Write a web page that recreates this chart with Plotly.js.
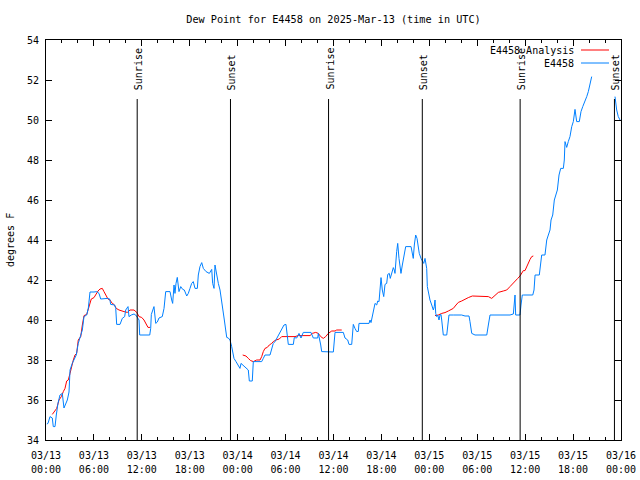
<!DOCTYPE html>
<html>
<head>
<meta charset="utf-8">
<script src="https://cdn.plot.ly/plotly-3.0.1.min.js"></script>
<style>html,body{margin:0;padding:0;background:#fff;}#chart{width:640px;height:480px;}</style>
</head>
<body>
<div id="chart"></div>
<script>
// Hours since 2025-03-13 00:00 UTC
const obsHours = [0.10,0.25,0.50,0.79,0.91,1.13,1.29,1.50,1.75,2.04,2.25,2.47,2.67,2.88,3.01,3.29,3.51,3.79,4.04,4.26,4.55,4.76,5.10,5.30,5.51,6.01,6.35,6.64,6.85,7.68,7.98,8.10,8.60,8.73,8.85,9.27,9.55,9.85,9.98,10.27,10.39,10.68,11.02,11.23,11.65,11.73,12.27,12.99,13.11,13.19,13.52,13.74,13.94,14.15,14.56,14.69,14.78,14.99,15.53,15.74,15.86,16.03,16.15,16.28,16.44,16.65,16.87,17.12,17.32,17.62,17.82,18.03,18.24,18.44,18.66,18.95,19.07,19.28,19.50,19.70,20.04,20.45,20.62,20.75,20.87,21.04,21.16,21.37,21.58,21.79,22.00,22.20,22.33,22.50,22.63,22.83,23.04,23.25,23.38,23.54,23.79,24.08,24.29,24.42,24.63,24.92,25.21,25.33,25.46,25.83,25.96,26.58,27.01,27.21,27.42,28.05,28.26,28.46,28.68,28.89,29.09,29.30,29.51,29.80,30.05,30.22,30.34,30.97,31.09,31.39,31.68,31.93,32.22,33.18,33.47,34.02,34.10,34.40,34.52,35.98,36.10,36.19,37.23,37.44,37.78,37.94,38.28,38.40,38.48,38.69,38.91,39.11,39.19,40.45,40.57,40.70,40.86,41.03,41.20,41.41,41.54,41.70,41.82,41.95,42.11,42.29,42.45,42.66,42.79,42.99,43.11,43.29,43.49,43.61,43.70,43.91,44.04,44.20,44.33,44.45,44.62,44.74,44.87,45.04,45.71,45.79,45.99,46.12,46.29,46.46,46.62,46.74,46.96,47.12,47.30,47.46,47.67,47.75,47.87,48.08,48.30,48.50,48.62,48.71,48.80,48.92,49.05,49.21,49.34,49.46,49.55,49.67,49.75,50.18,50.30,50.46,51.00,52.05,52.47,52.97,53.09,53.31,53.72,55.19,55.39,55.60,56.22,57.06,58.10,58.52,58.64,58.73,58.81,59.35,59.48,59.64,59.77,60.95,61.11,61.24,61.77,61.95,62.07,62.48,62.70,62.90,63.11,63.24,63.45,63.65,63.83,64.03,64.24,64.45,64.78,64.90,64.99,65.20,65.40,65.61,65.83,66.03,66.24,66.45,66.78,66.99,67.21,67.49,67.71,67.91,68.12,68.33,69.8,71.25,71.46,71.66,71.88];
const obsDew = [34.80,34.83,35.17,35.10,34.67,34.67,35.25,35.83,36.25,36.33,35.60,35.83,36.00,36.40,37.50,37.83,38.00,38.25,38.83,39.17,39.50,40.17,40.25,40.60,41.40,41.40,41.42,41.33,41.05,41.08,41.05,40.78,40.75,40.58,39.78,39.78,40.08,40.17,40.50,40.67,40.17,40.25,40.30,40.25,40.00,39.25,39.25,39.25,39.58,40.28,40.67,39.83,39.90,40.10,40.17,40.37,40.58,41.42,41.42,41.00,40.83,41.75,41.33,41.83,42.13,41.42,41.67,41.53,41.50,41.20,41.33,41.58,41.83,41.92,41.58,41.58,42.25,42.67,42.87,42.58,42.42,42.33,42.42,42.53,41.83,41.58,42.75,42.25,41.83,41.50,41.00,40.50,40.00,39.50,39.13,39.10,39.00,38.67,38.33,38.08,37.92,37.75,37.58,37.83,37.75,37.67,37.58,37.50,36.95,36.95,37.92,37.92,37.92,38.08,38.25,38.25,38.58,38.83,38.92,39.08,39.20,39.33,39.50,39.75,39.78,39.08,38.78,38.78,39.12,39.10,39.33,39.10,39.38,39.38,39.10,39.10,39.33,38.75,38.42,38.40,39.33,39.38,39.38,39.10,39.00,38.78,38.78,39.42,39.78,39.58,39.42,39.43,39.83,39.83,40.00,39.87,40.17,40.42,40.83,40.75,40.95,40.92,41.42,42.12,41.50,41.17,41.78,41.83,42.28,42.33,42.08,42.42,42.62,42.50,42.33,43.42,43.83,43.08,42.75,42.33,42.75,43.08,43.42,43.67,43.67,43.50,43.08,43.75,44.25,44.08,43.75,43.33,43.08,42.92,42.83,43.08,42.58,41.67,41.33,41.00,40.75,40.50,40.67,41.00,40.33,40.17,40.25,40.00,40.25,40.28,40.00,39.50,39.25,39.25,39.58,40.25,40.25,40.25,40.20,40.20,39.92,39.33,39.25,39.25,39.75,40.25,40.25,40.25,40.25,40.30,41.00,41.25,40.25,40.25,40.75,41.25,41.25,41.25,41.50,42.25,42.25,43.00,43.25,43.25,44.00,44.25,44.50,45.00,45.25,46.00,46.25,46.50,47.25,47.58,47.58,48.00,48.92,48.63,48.92,49.17,49.67,49.92,50.53,49.92,49.92,50.42,50.67,50.92,51.17,51.42,51.83,52.17,null,51.17,50.50,50.17,50.00];

const anaHours = [0.79,1.09,1.34,1.63,1.92,2.17,2.38,2.59,2.79,3.01,3.17,3.42,3.63,3.84,4.04,4.35,4.55,4.76,5.10,5.30,5.47,5.67,6.01,6.22,6.51,6.76,7.05,7.26,7.48,7.76,8.01,8.30,8.51,8.80,9.14,9.43,9.77,10.18,10.52,11.02,11.36,11.65,11.98,12.27,12.48,12.77,13.02,18.0,24.63,25.04,25.33,25.63,25.96,26.38,26.80,27.01,27.21,27.42,27.71,27.96,28.26,28.46,28.80,29.21,29.51,30.34,31.18,31.59,33.06,33.35,33.77,34.10,34.40,34.72,35.02,35.35,35.78,36.19,36.40,37.03,42.0,48.71,49.12,49.55,49.96,50.38,50.71,51.00,51.34,51.63,52.05,52.47,52.88,53.38,54.97,55.39,55.81,56.22,56.64,57.26,57.69,58.10,58.39,58.73,59.07,59.35,59.56,59.77,59.98,60.19,60.39,60.61,60.82,61.02];
const anaDew = [35.28,35.42,35.58,36.00,36.17,36.42,36.58,36.95,37.00,37.33,37.67,38.00,38.25,38.33,39.00,39.17,39.75,40.22,40.28,40.58,40.83,41.05,41.12,41.28,41.45,41.55,41.58,41.42,41.25,41.05,41.00,40.83,40.78,40.58,40.50,40.45,40.42,40.38,40.50,40.50,40.38,40.17,40.13,40.00,39.83,39.63,39.63,null,38.25,38.20,38.08,37.97,37.92,38.00,38.00,38.17,38.42,38.58,38.63,38.75,38.83,38.92,39.00,39.05,39.17,39.17,39.17,39.22,39.22,39.33,39.38,39.33,39.17,39.08,39.17,39.33,39.45,39.45,39.50,39.50,null,40.22,40.25,40.33,40.37,40.45,40.50,40.58,40.75,40.88,40.95,41.05,41.12,41.20,41.20,41.17,41.08,41.25,41.38,41.45,41.50,41.67,41.78,41.92,42.08,42.20,42.37,42.47,42.47,42.67,42.87,43.03,43.17,43.20];

const sunLabels = ['Sunrise','Sunset','Sunrise','Sunset','Sunrise','Sunset'];
const sunHours = [11.42, 23.10, 35.38, 47.12, 59.37, 71.18];

const seriesNames = ['E4458 Analysis','E4458'];
const seriesColors = ['#ff0000','#0080ff'];
const titleText = 'Dew Point for E4458 on 2025-Mar-13 (time in UTC)';
const yTitle = 'degrees F';

const base = Date.UTC(2025, 2, 13, 0, 0, 0);
const toMs = h => base + h * 3600000;

const FONT = 'DejaVu Sans Mono, monospace';
const fsz = 10;

const traces = [
  {x: anaHours.map(toMs), y: anaDew, type: 'scatter', mode: 'lines', name: seriesNames[0],
   line: {color: seriesColors[0], width: 1}, hoverinfo: 'skip'},
  {x: obsHours.map(toMs), y: obsDew, type: 'scatter', mode: 'lines', name: seriesNames[1],
   line: {color: seriesColors[1], width: 1}, hoverinfo: 'skip'},
  // invisible carrier so the second (time-of-day) label axis is drawn
  {x: obsHours.map(toMs), y: obsDew, xaxis: 'x2', type: 'scatter', mode: 'lines', opacity: 0,
   line: {width: 0}, hoverinfo: 'skip', showlegend: false}
];

const L = 46, R = 621, T = 40, B = 440;
const px2paperX = p => (p - L) / (R - L);
const px2paperY = p => (B - p) / (B - T);

const shapes = [];
const annotations = [];
sunHours.forEach((h, i) => {
  shapes.push({type: 'line', xref: 'x', yref: 'paper', x0: toMs(h), x1: toMs(h), y0: 0, y1: px2paperY(99),
    line: {color: '#000', width: 1}});
  annotations.push({xref: 'x', yref: 'paper', x: toMs(h), y: px2paperY(92), text: sunLabels[i],
    textangle: -90, showarrow: false, xanchor: 'center', yanchor: 'bottom', xshift: 1,
    font: {family: FONT, size: fsz, color: '#000'}});
});
// gnuplot-style key: text, then line sample
[50, 63].forEach((yy, i) => {
  annotations.push({xref: 'paper', yref: 'paper', x: px2paperX(576), y: px2paperY(yy), text: seriesNames[i],
    showarrow: false, xanchor: 'right', yanchor: 'middle', font: {family: FONT, size: fsz, color: '#000'}});
  shapes.push({type: 'line', xref: 'paper', yref: 'paper', x0: px2paperX(581), x1: px2paperX(609),
    y0: px2paperY(yy), y1: px2paperY(yy), line: {color: seriesColors[i], width: 1}});
});
annotations.push({xref: 'paper', yref: 'paper', x: 0, y: 0.5, xshift: -(L - 10), text: yTitle,
  textangle: -90, showarrow: false, xanchor: 'center', yanchor: 'middle',
  font: {family: FONT, size: fsz, color: '#000'}});

const xRange = [toMs(0), toMs(72)];
const sixH = 6 * 3600000;

const layout = {
  width: 640, height: 480,
  margin: {l: L, r: 640 - R, t: T, b: 480 - B, pad: 0},
  paper_bgcolor: '#fff', plot_bgcolor: '#fff',
  showlegend: false,
  font: {family: FONT, size: fsz, color: '#000'},
  title: {text: titleText, x: 0.5, xref: 'paper', y: 1 - 19 / 480, yref: 'container', yanchor: 'middle',
    font: {family: FONT, size: 10.2, color: '#000'}},
  xaxis: {type: 'date', range: xRange, tick0: toMs(0), dtick: sixH,
    tickformat: '%m/%d', ticks: 'inside', ticklen: 6, tickcolor: '#000', tickwidth: 1,
    minor: {dtick: 2 * 3600000, tick0: toMs(0), ticks: 'inside', ticklen: 3, tickcolor: '#000', tickwidth: 1},
    showline: true, linecolor: '#000', linewidth: 1, mirror: 'ticks', showgrid: false, zeroline: false,
    tickfont: {family: FONT, size: fsz, color: '#000'}, ticklabelstandoff: 6, fixedrange: true},
  xaxis2: {type: 'date', overlaying: 'x', anchor: 'y', side: 'bottom', range: xRange, tick0: toMs(0), dtick: sixH,
    tickformat: '%H:%M', ticks: '', showline: false, showgrid: false, zeroline: false,
    tickfont: {family: FONT, size: fsz, color: '#000'}, ticklabelstandoff: 22, fixedrange: true},
  yaxis: {range: [34, 54], dtick: 2, tick0: 34, ticks: 'inside', ticklen: 6, tickcolor: '#000', tickwidth: 1,
    showline: true, linecolor: '#000', linewidth: 1, mirror: 'ticks', showgrid: false, zeroline: false,
    tickfont: {family: FONT, size: fsz, color: '#000'}, ticklabelstandoff: 4, fixedrange: true},
  shapes: shapes,
  annotations: annotations
};

Plotly.newPlot('chart', traces, layout, {staticPlot: true, displayModeBar: false});
</script>
</body>
</html>
